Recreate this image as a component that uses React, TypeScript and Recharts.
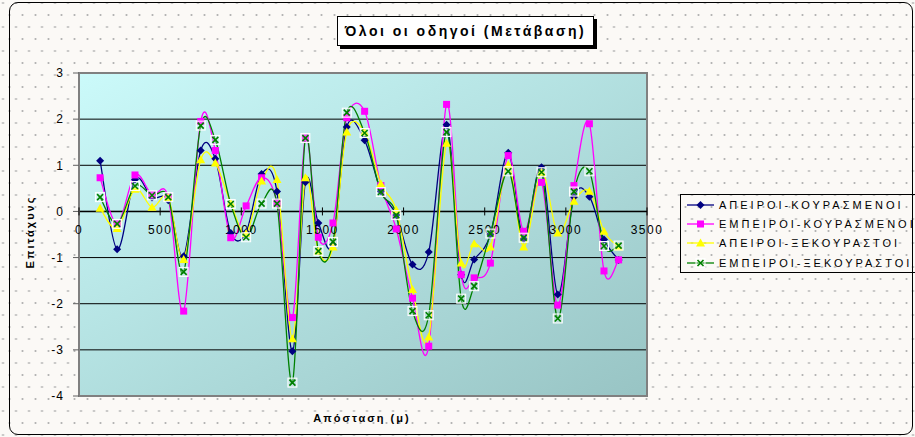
import React from 'react';
import {
  LineChart, Line, XAxis, YAxis, CartesianGrid, ReferenceLine, ReferenceDot, ReferenceArea, Legend
} from 'recharts';

const FONT = '"Liberation Sans", Arial, Helvetica, sans-serif';

// distance along the route (m)
const distance = [
  130, 235, 345, 450, 550, 645, 750, 840, 935, 1030, 1125, 1220, 1315, 1395, 1475, 1565, 1650,
  1760, 1860, 1955, 2055, 2155, 2265, 2355, 2435, 2535, 2645, 2740, 2850, 2950, 3050, 3145, 3235, 3325
];

const apeiroiKourasmenoi = [
  1.10, -0.82, 0.69, 0.30, 0.24, -0.97, 1.32, 1.14, -0.47, -0.45, 0.81, 0.43, -3.03, 0.63, -0.25, -0.72, 1.83,
  1.54, 0.44, -0.08, -1.15, -0.88, 1.88, -1.37, -1.04, -0.50, 1.27, -0.60, 0.96, -1.80, 0.31, 0.32, -0.61, -1.05
];

const empeiroiKourasmenoi = [
  0.73, -0.27, 0.79, 0.36, 0.31, -2.16, 1.95, 1.32, -0.57, 0.12, 0.73, 0.18, -2.30, 1.59, -0.56, -0.25, 2.03,
  2.17, 0.56, -0.38, -1.88, -2.92, 2.32, -1.37, -1.44, -1.12, 1.21, -0.43, 0.63, -2.03, 0.56, 1.90, -1.29, -1.05
];

const apeiroiXekourastoi = [
  0.07, -0.37, 0.48, 0.09, 0.30, -1.04, 1.12, 1.05, 0.18, -0.48, 0.66, 0.69, -2.76, 0.73, -0.86, -0.77, 1.72,
  1.72, 0.60, 0.03, -1.69, -2.72, 1.48, -1.12, -0.70, -0.77, 1.01, -0.77, 0.85, -0.47, 0.22, 0.44, -0.43, -0.77
];

const empeiroiXekourastoi = [
  0.31, -0.27, 0.55, 0.35, 0.31, -1.31, 1.86, 1.55, 0.16, -0.56, 0.17, 0.17, -3.71, 1.59, -0.86, -0.66, 2.14,
  1.70, 0.42, -0.08, -2.16, -2.25, 1.72, -1.89, -1.62, -0.48, 0.87, -0.57, 0.85, -2.32, 0.43, 0.87, -0.75, -0.74
];

const X_TICKS = [0, 500, 1000, 1500, 2000, 2500, 3000, 3500];
const Y_TICKS = [-4, -3, -2, -1, 0, 1, 2, 3];

type MarkerKind = 'diamond' | 'square' | 'triangle' | 'cross';

const SERIES: { key: string; name: string; values: number[]; color: string; marker: MarkerKind }[] = [
  { key: 'ak', name: 'ΑΠΕΙΡΟΙ-ΚΟΥΡΑΣΜΕΝΟΙ', values: apeiroiKourasmenoi, color: '#000080', marker: 'diamond' },
  { key: 'ek', name: 'ΕΜΠΕΙΡΟΙ-ΚΟΥΡΑΣΜΕΝΟΙ', values: empeiroiKourasmenoi, color: '#FF00FF', marker: 'square' },
  { key: 'ax', name: 'ΑΠΕΙΡΟΙ-ΞΕΚΟΥΡΑΣΤΟΙ', values: apeiroiXekourastoi, color: '#FFFF00', marker: 'triangle' },
  { key: 'ex', name: 'ΕΜΠΕΙΡΟΙ-ΞΕΚΟΥΡΑΣΤΟΙ', values: empeiroiXekourastoi, color: '#008000', marker: 'cross' }
];

const data = distance.map((d, i) => {
  const row: Record<string, number> = { d };
  for (const s of SERIES) row[s.key] = s.values[i];
  return row;
});

// Excel-like smoothed line: Catmull-Rom segments as cubic beziers (control = 1/6 of neighbour span)
function excelSmooth(context: any) {
  let pts: number[][] = [];
  return {
    areaStart() {},
    areaEnd() {},
    lineStart() { pts = []; },
    point(x: number, y: number) { pts.push([+x, +y]); },
    lineEnd() {
      const n = pts.length;
      if (!n) return;
      context.moveTo(pts[0][0], pts[0][1]);
      for (let i = 0; i < n - 1; i++) {
        const p0 = pts[Math.max(i - 1, 0)];
        const p1 = pts[i];
        const p2 = pts[i + 1];
        const p3 = pts[Math.min(i + 2, n - 1)];
        context.bezierCurveTo(
          p1[0] + (p2[0] - p0[0]) / 6, p1[1] + (p2[1] - p0[1]) / 6,
          p2[0] - (p3[0] - p1[0]) / 6, p2[1] - (p3[1] - p1[1]) / 6,
          p2[0], p2[1]
        );
      }
    }
  };
}

function Marker({ kind, cx, cy, color }: { kind: MarkerKind; cx: number; cy: number; color: string }) {
  switch (kind) {
    case 'diamond':
      return <path d={`M${cx},${cy - 4}L${cx + 4},${cy}L${cx},${cy + 4}L${cx - 4},${cy}Z`} fill={color} />;
    case 'square':
      return <rect x={cx - 3.5} y={cy - 3.5} width={7} height={7} fill={color} />;
    case 'triangle':
      return <path d={`M${cx},${cy - 4.5}L${cx + 4.5},${cy + 3.5}L${cx - 4.5},${cy + 3.5}Z`} fill={color} />;
    default:
      return (
        <g>
          <rect x={cx - 4.5} y={cy - 4.5} width={9} height={9} fill="rgba(255,255,255,0.25)" stroke="#fff" strokeWidth={1} />
          <path d={`M${cx - 3},${cy - 3}L${cx + 3},${cy + 3}M${cx + 3},${cy - 3}L${cx - 3},${cy + 3}`} stroke={color} strokeWidth={1.6} />
        </g>
      );
  }
}

function LegendBox() {
  return (
    <div style={{ border: '1px solid #000', width: 240, fontFamily: FONT }}>
      {SERIES.map((s) => (
        <div key={s.key} style={{ display: 'flex', alignItems: 'center', height: 19.3 }}>
          <svg width={32} height={12} style={{ marginLeft: 6 }}>
            <line x1={0} x2={27} y1={6} y2={6} stroke={s.color} strokeWidth={1.3} />
            <Marker kind={s.marker} cx={13.5} cy={6} color={s.color} />
          </svg>
          <span style={{ fontSize: 11, letterSpacing: 3, color: '#000', whiteSpace: 'nowrap' }}>{s.name}</span>
        </div>
      ))}
    </div>
  );
}

export default function App() {
  const dots = 'radial-gradient(circle, #b4b4b4 0.8px, transparent 1.3px)';
  return (
    <div style={{
      position: 'absolute', left: 0, top: 0, width: 915, height: 437, overflow: 'hidden',
      backgroundColor: '#fbf9f6', backgroundImage: `${dots}, ${dots}`,
      backgroundSize: '13px 24px, 13px 24px', backgroundPosition: '3px 3px, 9.5px 15px',
      fontFamily: FONT
    }}>
      <div style={{
        position: 'absolute', left: 9, top: 2, width: 902, height: 431,
        border: '1.5px solid #000', borderRadius: 9
      }} />
      <div style={{ position: 'absolute', left: 0, top: 0 }}>
        <LineChart width={915} height={437} data={data} margin={{ top: 73, right: 268, bottom: 41, left: 0 }}>
          <defs>
            <linearGradient id="plotBg" x1="0" y1="0" x2="1" y2="1">
              <stop offset="0%" stopColor="#cbfafa" />
              <stop offset="100%" stopColor="#98c4c4" />
            </linearGradient>
          </defs>
          <CartesianGrid vertical={false} stroke="#000" strokeWidth={1} fill="url(#plotBg)" fillOpacity={1} />
          <XAxis dataKey="d" type="number" domain={[0, 3500]} ticks={X_TICKS} hide height={0} />
          <YAxis
            type="number" domain={[-4, 3]} ticks={Y_TICKS} width={79} interval={0}
            axisLine={{ stroke: '#808080', strokeWidth: 2 }}
            tickLine={{ stroke: '#606060' }} tickSize={6} tickMargin={9}
            tick={{ fontSize: 12, fill: '#000', fontFamily: FONT, letterSpacing: 1 }}
          />
          <ReferenceArea x1={0} x2={3500} y1={-4} y2={3} fill="none" stroke="#808080" strokeWidth={2} fillOpacity={0} />
          <ReferenceLine y={0} stroke="#000" strokeWidth={1.5} />
          {X_TICKS.map((t) => (
            <ReferenceDot
              key={t} x={t} y={0} r={0} ifOverflow="visible"
              shape={(p: any) => (
                <g>
                  <line x1={p.cx} x2={p.cx} y1={p.cy - 4} y2={p.cy + 4} stroke="#000" strokeWidth={1} />
                  <text x={p.cx} y={p.cy + 23} textAnchor="middle" fontSize={12} fontFamily={FONT}
                        letterSpacing={1.5} fill="#000">{t}</text>
                </g>
              )}
            />
          ))}
          {SERIES.map((s) => (
            <Line
              key={s.key} dataKey={s.key} name={s.name} type={excelSmooth as any}
              stroke={s.color} strokeWidth={1.3} isAnimationActive={false}
              dot={(p: any) => <Marker key={`${s.key}-${p.index}`} kind={s.marker} cx={p.cx} cy={p.cy} color={s.color} />}
              activeDot={false}
            />
          ))}
          <Legend
            layout="horizontal" align="center" verticalAlign="middle"
            wrapperStyle={{ left: 680, top: 194, width: 240, height: 80 }}
            content={() => <LegendBox />}
          />
        </LineChart>
      </div>
      <div style={{
        position: 'absolute', left: 337, top: 16, width: 255, height: 28, background: '#fff',
        border: '1.5px solid #000', boxShadow: '3px 3px 0 #000', display: 'flex',
        alignItems: 'center', justifyContent: 'center', fontWeight: 'bold', fontSize: 14, letterSpacing: 2.5,
        whiteSpace: 'nowrap'
      }}>Όλοι οι οδηγοί (Μετάβαση)</div>
      <div style={{
        position: 'absolute', left: 30, top: 232, transform: 'translate(-50%, -50%) rotate(-90deg)',
        fontWeight: 'bold', fontSize: 11, letterSpacing: 2, whiteSpace: 'nowrap'
      }}>Επιτάχυνς</div>
      <div style={{
        position: 'absolute', left: 362, top: 418, transform: 'translate(-50%, -50%)',
        fontWeight: 'bold', fontSize: 11, letterSpacing: 2, whiteSpace: 'nowrap'
      }}>Απόσταση (μ)</div>
    </div>
  );
}
